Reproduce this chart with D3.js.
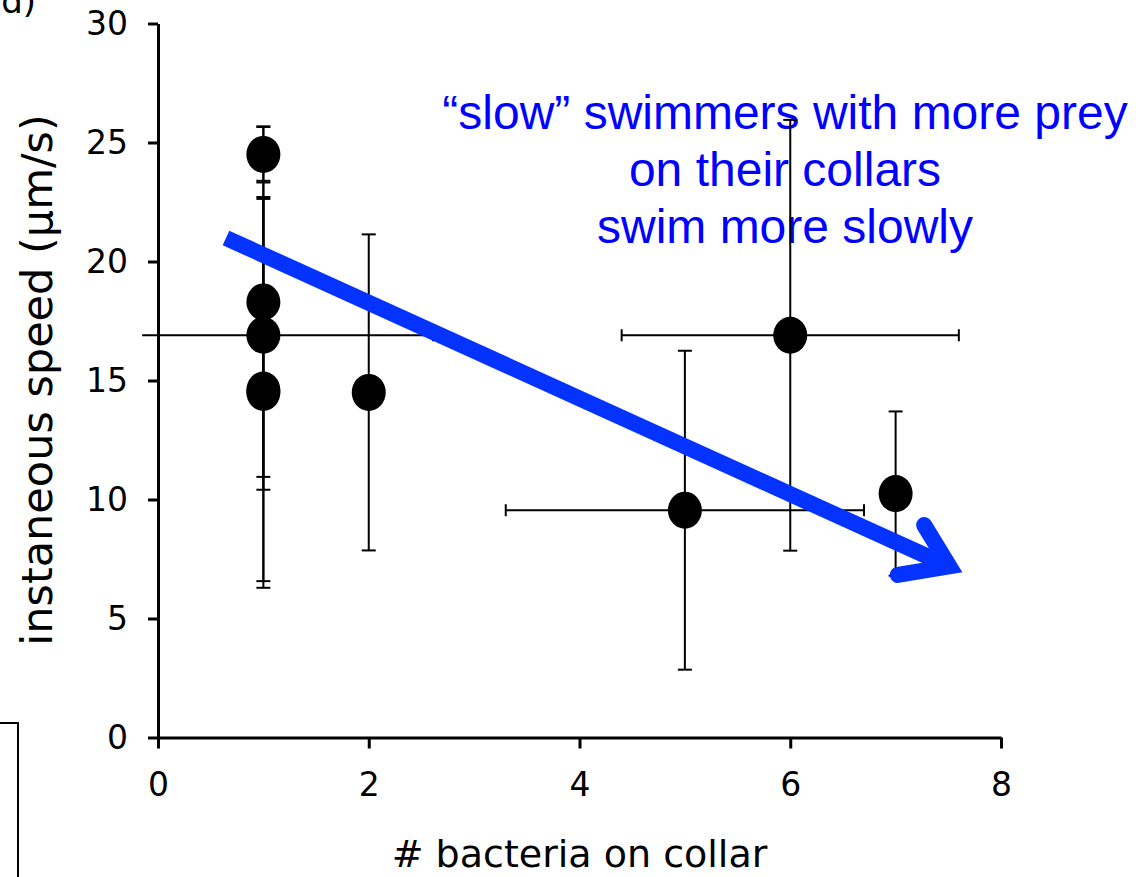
<!DOCTYPE html>
<html>
<head>
<meta charset="utf-8">
<script src="https://cdn.jsdelivr.net/npm/d3@7"></script>
<style>
  html, body { margin: 0; padding: 0; background: #fff; overflow: hidden; }
  svg { display: block; }
</style>
</head>
<body>
<div id="chart"></div>
<script>
// data
const bacteria   = [1, 1, 1, 1, 1, 2, 5, 6, 7];
const speed      = [24.5, 18.3, 16.9, 14.5, 14.6, 14.5, 9.55, 16.9, 10.25];
const speedErr   = [1.18, 7.35, 6.49, 8.21, 8.03, 6.64, 6.70, 9.05, 3.45];
const bacteriaErr = [0, 0, 1.61, 0, 0, 0, 1.70, 1.60, 0];
const xTicks = [0, 2, 4, 6, 8];
const yTicks = [0, 5, 10, 15, 20, 25, 30];
const noteLines = ["\u201cslow\u201d swimmers with more prey", "on their collars", "swim more slowly"];
// trend arrow, in data units: shaft start, head vertex, barb ends
const arrowShaft = [[0.645, 20.99], [7.51, 7.19]];
const arrowHead  = [[7.27, 8.93], [7.51, 7.19], [7.02, 6.83]];
const xClipMin = -0.15;   // horizontal bars are cut just left of the axis

const W = 1136, H = 877;
const svg = d3.select("#chart").append("svg")
  .attr("width", W).attr("height", H);

const x = d3.scaleLinear().domain([0, 8]).range([158, 1001]);
const y = d3.scaleLinear().domain([0, 30]).range([737.5, 23.5]);

// panel letter and the neighbouring frame, both cut by the page edge
svg.append("text")
  .attr("x", 36).attr("y", 13)
  .attr("text-anchor", "end")
  .attr("font-family", "DejaVu Sans")
  .attr("font-size", 34)
  .text("(d)");
svg.append("rect")
  .attr("x", -20).attr("y", 723).attr("width", 38).attr("height", 200)
  .attr("fill", "none").attr("stroke", "#000").attr("stroke-width", 2);

// annotation text (sits under the bars)
svg.append("g").selectAll("text")
  .data(noteLines)
  .enter().append("text")
    .attr("x", 785)
    .attr("y", (d, i) => 129 + i * 57)
    .attr("text-anchor", "middle")
    .attr("font-family", "Liberation Sans, Arial, sans-serif")
    .attr("font-size", 48)
    .attr("fill", "#0000ff")
    .text(d => d);

// axes
const xAxis = svg.append("g")
  .attr("transform", `translate(0,${y(0)})`)
  .call(d3.axisBottom(x).tickValues(xTicks).tickSize(11).tickSizeOuter(0).tickPadding(24));
const yAxis = svg.append("g")
  .attr("transform", `translate(${x(0)},0)`)
  .call(d3.axisLeft(y).tickValues(yTicks).tickSize(10).tickSizeOuter(0).tickPadding(20));
[xAxis, yAxis].forEach(ax => {
  ax.selectAll("path, line").attr("stroke", "#000").attr("stroke-width", 3);
  ax.selectAll("text")
    .attr("font-family", "DejaVu Sans, Verdana, sans-serif")
    .attr("font-size", 33)
    .attr("fill", "#000");
});

svg.append("text")
  .attr("transform", "translate(52,380) rotate(-90)")
  .attr("text-anchor", "middle")
  .attr("font-family", "DejaVu Sans, Verdana, sans-serif")
  .attr("font-size", 43)
  .text("instaneous speed (\u03bcm/s)");
svg.append("text")
  .attr("x", x(4)).attr("y", 867)
  .attr("text-anchor", "middle")
  .attr("font-family", "DejaVu Sans, Verdana, sans-serif")
  .attr("font-size", 38)
  .text("# bacteria on collar");

// error bars
const pts = bacteria.map((b, i) => ({ x: b, y: speed[i], ye: speedErr[i], xe: bacteriaErr[i] }));
const bars = svg.append("g").attr("stroke", "#000").attr("stroke-width", 2);
pts.forEach(d => {
  bars.append("line")
    .attr("x1", x(d.x)).attr("x2", x(d.x))
    .attr("y1", y(d.y - d.ye)).attr("y2", y(d.y + d.ye));
  [d.y - d.ye, d.y + d.ye].forEach(v => {
    bars.append("line")
      .attr("x1", x(d.x) - 7).attr("x2", x(d.x) + 7)
      .attr("y1", y(v)).attr("y2", y(v));
  });
  if (d.xe > 0) {
    const lo = d.x - d.xe, hi = d.x + d.xe;
    bars.append("line")
      .attr("x1", x(Math.max(lo, xClipMin))).attr("x2", x(hi))
      .attr("y1", y(d.y)).attr("y2", y(d.y));
    [lo, hi].filter(v => v >= xClipMin).forEach(v => {
      bars.append("line")
        .attr("x1", x(v)).attr("x2", x(v))
        .attr("y1", y(d.y) - 6).attr("y2", y(d.y) + 6);
    });
  }
});

// markers
svg.append("g").selectAll("ellipse")
  .data(pts)
  .enter().append("ellipse")
    .attr("cx", d => x(d.x))
    .attr("cy", d => y(d.y))
    .attr("rx", 17).attr("ry", 18.5)
    .attr("fill", "#000");

// trend arrow
const line = d3.line().x(d => x(d[0])).y(d => y(d[1]));
svg.append("path")
  .attr("d", line(arrowShaft))
  .attr("fill", "none").attr("stroke", "#0433ff")
  .attr("stroke-width", 16).attr("stroke-linecap", "butt");
svg.append("path")
  .attr("d", line(arrowHead))
  .attr("fill", "none").attr("stroke", "#0433ff")
  .attr("stroke-width", 16).attr("stroke-linecap", "round")
  .attr("stroke-linejoin", "miter").attr("stroke-miterlimit", 10);
</script>
</body>
</html>
